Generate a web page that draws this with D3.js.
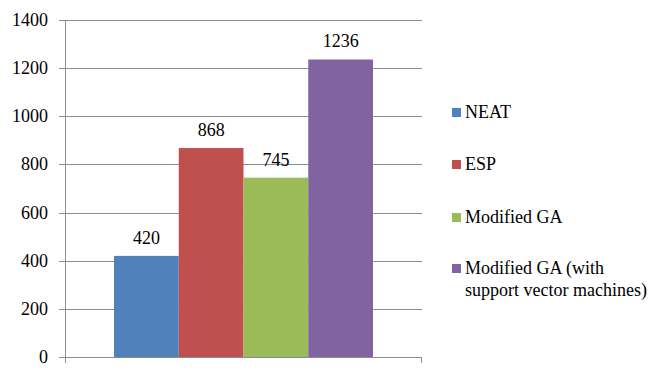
<!DOCTYPE html>
<meta charset="utf-8">
<body style="margin:0">
<script src="https://d3js.org/d3.v7.min.js"></script>
<script>

// chart data
var methods = ["NEAT", "ESP", "Modified GA", "Modified GA (with support vector machines)"];
var scores = [420, 868, 745, 1236];
var colors = ["#4f81bd", "#c0504d", "#9bbb59", "#8064a2"];
var yTicks = [0, 200, 400, 600, 800, 1000, 1200, 1400];

var W = 656, H = 370;
var margin = {top: 20, right: 234, bottom: 13, left: 65};

var svg = d3.select("body").append("svg")
    .attr("width", W)
    .attr("height", H);

// scales in page coordinates, so texts can sit directly under the svg
var y = d3.scaleLinear().domain([0, 1400]).range([H - margin.bottom, margin.top]);
var x = d3.scaleBand().domain(methods)
    .range([margin.left + 49, W - margin.right - 49]).padding(0);

function label(sel) {
  return sel.style("font-family", function() { return '"Liberation Serif"'; })
    .style("font-size", "18px");
}

// gridlines
svg.selectAll(".grid").data(yTicks).enter().append("line")
    .attr("class", "grid")
    .attr("x1", margin.left - 6).attr("x2", W - margin.right)
    .attr("y1", function(d) { return Math.round(y(d)) + 0.5; })
    .attr("y2", function(d) { return Math.round(y(d)) + 0.5; })
    .attr("stroke", "#8c8c8c");

// y axis line and the right end tick
svg.append("line")
    .attr("x1", margin.left + 0.5).attr("x2", margin.left + 0.5)
    .attr("y1", y(1400)).attr("y2", y(0) + 6)
    .attr("stroke", "#8c8c8c");
svg.append("line")
    .attr("x1", W - margin.right - 0.5).attr("x2", W - margin.right - 0.5)
    .attr("y1", y(0)).attr("y2", y(0) + 6)
    .attr("stroke", "#8c8c8c");

// bars
svg.selectAll(".bar").data(scores).enter().append("rect")
    .attr("class", "bar")
    .attr("x", function(d, i) { return x(methods[i]); })
    .attr("width", x.bandwidth())
    .attr("y", function(d) { return y(d); })
    .attr("height", function(d) { return y(0) - y(d); })
    .attr("fill", function(d, i) { return colors[i]; });

// tick labels
svg.selectAll(".ylab").data(yTicks).enter().append("text")
    .attr("class", "ylab")
    .attr("x", margin.left - 17)
    .attr("y", function(d) { return y(d) + 6; })
    .attr("text-anchor", "end")
    .call(label)
    .text(function(d) { return d; });

// value labels
svg.selectAll(".val").data(scores).enter().append("text")
    .attr("class", "val")
    .attr("x", function(d, i) { return x(methods[i]) + x.bandwidth() / 2; })
    .attr("y", function(d) { return y(d) - 12; })
    .attr("text-anchor", "middle")
    .call(label)
    .text(function(d) { return d; });

// legend
var legendY = [112, 164, 217, 268];
var legendLines = [["NEAT"], ["ESP"], ["Modified GA"], ["Modified GA  (with", "support vector machines)"]];
svg.selectAll(".key").data(colors).enter().append("rect")
    .attr("class", "key")
    .attr("x", 452).attr("y", function(d, i) { return legendY[i] - 4; })
    .attr("width", 9).attr("height", 9)
    .attr("fill", function(d) { return d; });
legendLines.forEach(function(lines, i) {
  lines.forEach(function(s, j) {
    svg.append("text")
        .attr("x", 465)
        .attr("y", legendY[i] + 6 + j * 22)
        .call(label)
        .text(s);
  });
});

</script>
</body>
